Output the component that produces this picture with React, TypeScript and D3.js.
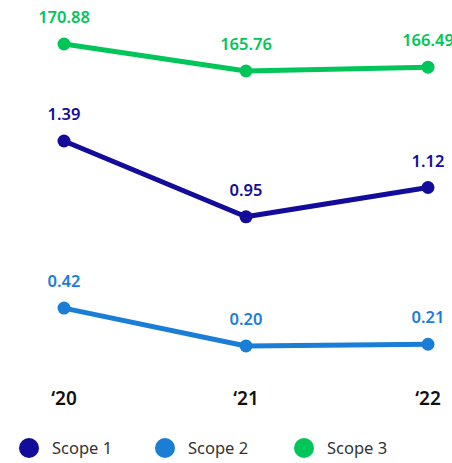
import React from "react";
import * as d3 from "d3";

const years = ["\u201820", "\u201821", "\u201822"];
const scope1 = [1.39, 0.95, 1.12];
const scope2 = [0.42, 0.2, 0.21];
const scope3 = [170.88, 165.76, 166.49];
const seriesNames = ["Scope 1", "Scope 2", "Scope 3"];
const colors = ["#130c9b", "#1b7ed6", "#00c65a"];

const W = 452;
const H = 463;

export default function App() {
  const x = d3.scalePoint<string>().domain(years).range([64, 428]);
  const yLow = d3.scaleLinear().domain([0.2, 1.39]).range([346, 141]);
  const yHigh = d3.scaleLinear().domain([165.76, 170.88]).range([71, 44]);

  const series = [
    { name: seriesNames[0], values: scope1, y: yLow, color: colors[0] },
    { name: seriesNames[1], values: scope2, y: yLow, color: colors[1] },
    { name: seriesNames[2], values: scope3, y: yHigh, color: colors[2] },
  ];

  const font = "'Noto Sans', 'Open Sans', sans-serif";
  const legendX = [29, 165, 304];

  return (
    <svg
      width={W}
      height={H}
      style={{ position: "absolute", left: 0, top: 0, background: "#fff" }}
      fontFamily={font}
    >
      {series.map((s, si) => {
        const line = d3
          .line<number>()
          .x((_, i) => x(years[i]) as number)
          .y((v) => s.y(v));
        return (
          <g key={si}>
            <path d={line(s.values) || ""} fill="none" stroke={s.color} strokeWidth={5} strokeLinejoin="round" />
            {s.values.map((v, i) => (
              <g key={i}>
                <circle cx={x(years[i])} cy={s.y(v)} r={6.5} fill={s.color} />
                <text
                  x={x(years[i])}
                  y={s.y(v) - 21}
                  textAnchor="middle"
                  fontSize={16.5}
                  fontWeight={600}
                  fill={s.color}
                >
                  {v.toFixed(2)}
                </text>
              </g>
            ))}
          </g>
        );
      })}
      {years.map((yr) => (
        <text key={yr} x={x(yr)} y={405} textAnchor="middle" fontSize={19} fontWeight={600} fill="#111">
          {yr}
        </text>
      ))}
      {series.map((s, i) => (
        <g key={"lg" + i}>
          <circle cx={legendX[i]} cy={448} r={10} fill={s.color} />
          <text x={legendX[i] + 23} y={454} fontSize={16.5} fill="#333">
            {s.name}
          </text>
        </g>
      ))}
    </svg>
  );
}
